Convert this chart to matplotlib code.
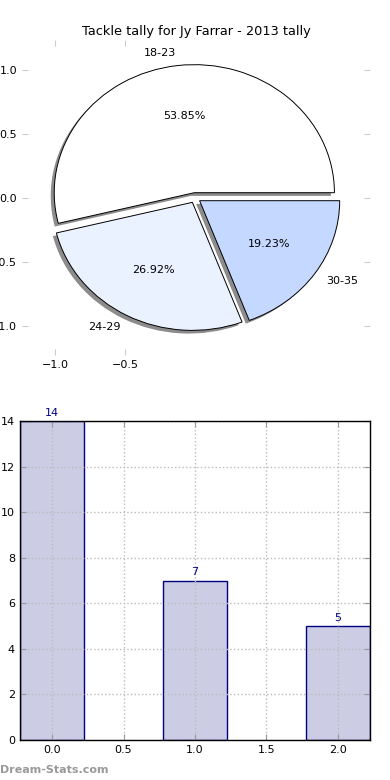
import matplotlib
matplotlib.use('Agg')
import matplotlib.pyplot as plt
from matplotlib.patches import Shadow

# data
age_groups = ['18-23', '24-29', '30-35']
tackles = [14, 7, 5]
bar_pos = [0, 1, 2]
pie_colors = ['#ffffff', '#eaf1ff', '#c5d8ff']
explode = [0.04, 0.04, 0.04]

fig = plt.figure(figsize=(3.9, 7.8), dpi=100)

# --- pie ---
ax1 = fig.add_axes([0.056, 0.545, 0.893, 0.404])
wedges, texts, autotexts = ax1.pie(tackles, labels=age_groups, colors=pie_colors,
                                   explode=explode, autopct='%1.2f%%', shadow=False,
                                   startangle=0, frame=True,
                                   wedgeprops=dict(edgecolor='black', linewidth=0.7),
                                   textprops=dict(fontsize=8))
# grey drop shadow under each wedge
for w in wedges:
    sh = Shadow(w, -0.018, -0.018)
    sh.set_facecolor('#808080')
    sh.set_edgecolor('none')
    sh.set_alpha(0.9)
    sh.set_zorder(w.get_zorder() - 0.1)
    ax1.add_patch(sh)
ax1.set_aspect('auto')
ax1.set_xlim(-1.236, 1.25)
ax1.set_ylim(-1.227, 1.234)
ax1.set_xticks([-1.0, -0.5])
ax1.set_yticks([-1.0, -0.5, 0.0, 0.5, 1.0])
for s in ax1.spines.values():
    s.set_visible(False)
ax1.tick_params(direction='in', length=4, color='#cccccc', labelsize=8,
                top=True, right=True)
ax1.set_title('Tackle tally for Jy Farrar - 2013 tally', fontsize=9.3, pad=3.5)

# --- bar ---
ax2 = fig.add_axes([0.051, 0.0513, 0.898, 0.4087])
bars = ax2.bar(bar_pos, tackles, width=0.45, color='#ccccE5', edgecolor='navy',
               linewidth=1, zorder=2)
for b, v in zip(bars, tackles):
    ax2.text(b.get_x() + b.get_width() / 2, v + 0.15, str(v), ha='center', va='bottom',
             color='navy', fontsize=8)
ax2.set_xlim(-0.225, 2.225)
ax2.set_ylim(0, 14)
ax2.set_xticks([0.0, 0.5, 1.0, 1.5, 2.0])
ax2.set_yticks(range(0, 15, 2))
ax2.grid(True, linestyle=':', color='#bbbbbb', linewidth=1, zorder=3)
ax2.set_axisbelow(False)
ax2.tick_params(direction='in', length=4, color='#999999', labelsize=8,
                top=True, right=True)
for s in ax2.spines.values():
    s.set_linewidth(1)
    s.set_zorder(4)

fig.text(0.0, 0.006, 'Dream-Stats.com', color='#999999', fontsize=8,
         fontweight='bold', ha='left', va='bottom')

fig.savefig('out.png', dpi=100)
